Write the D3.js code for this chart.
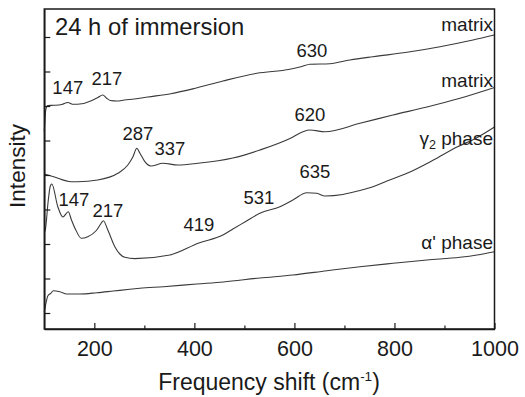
<!DOCTYPE html>
<html><head><meta charset="utf-8">
<script src="https://cdn.jsdelivr.net/npm/d3@7"></script>
<style>
html,body{margin:0;padding:0;background:#fff;}
svg{display:block;font-family:"Liberation Sans",Arial,Helvetica,sans-serif;}
</style></head>
<body>
<svg id="chart" width="525" height="397"></svg>
<script>
// Frequency shift (cm-1) / intensity (arb. units)
const matrixTopX = [100,103,107,120,135,147,158,175,195,207,217,224,232,245,260,280,307,353,400,457,525,591,615,631,671,711,757,825,891,957,1000];
const matrixTopY = [1980,2190,2235,2237,2245,2265,2247,2252,2285,2315,2340,2310,2285,2280,2290,2300,2320,2353,2405,2480,2557,2597,2625,2647,2653,2690,2723,2767,2823,2890,2940];

const matrixMidX = [100,117,154,167,207,247,267,277,285,291,301,313,337,367,407,477,531,591,617,631,661,731,797,865,931,1000];
const matrixMidY = [1550,1525,1473,1473,1490,1557,1640,1720,1807,1760,1673,1630,1657,1640,1657,1710,1790,1905,1973,1990,1973,2057,2140,2220,2307,2415];

const gamma2X = [100,102,108,112,115,127,137,148,154,163,174,187,204,214,218,227,241,251,261,281,351,409,457,477,501,531,571,597,625,645,661,697,731,757,785,825,878,926,958,1000];
const gamma2Y = [970,990,1290,1430,1450,1223,1120,1173,1095,990,907,923,985,1060,1083,990,823,750,717,704,740,860,940,1000,1070,1157,1223,1290,1363,1357,1330,1345,1385,1423,1480,1557,1690,1823,1895,2020];

const alphaX = [100,103,107,113,118,131,145,171,205,238,271,291,338,405,458,531,597,665,731,797,865,931,965,1000];
const alphaY = [170,250,330,357,383,373,350,350,363,380,397,407,423,450,470,510,540,583,623,657,690,717,740,773];

const xTicks = [200,400,600,800,1000];
const xMinorTicks = [300,500,700,900];
const yTicks = [160,505,850,1195,1540,1885,2230,2575,2920];

// peak annotations: [cm-1 position, intensity position, text]
const peakLabels = [
  [147, 2347, "147"], [225, 2440, "217"], [635, 2723, "630"],
  [287, 1890, "287"], [351, 1740, "337"], [631, 2083, "620"],
  [159, 1235, "147"], [227, 1125, "217"], [409, 980, "419"], [529, 1247, "531"], [641, 1507, "635"]
];
const seriesNames = ["matrix", "matrix", "γ2 phase", "α' phase"];
const seriesLabelY = [2980, 2420, 1840, 800];
const panelTitle = "24 h of immersion";

const svg = d3.select("#chart");
const x = d3.scaleLinear().domain([100, 1000]).range([44.3, 494.5]);
const y = d3.scaleLinear().domain([0, 3200]).range([329, 9]);
const ink = "#1a1a1a";

const series = [
  [matrixTopX, matrixTopY],
  [matrixMidX, matrixMidY],
  [gamma2X, gamma2Y],
  [alphaX, alphaY]
];
const line = d3.line().x(d => x(d[0])).y(d => y(d[1])).curve(d3.curveMonotoneX);
series.forEach(([xs, ys]) => {
  svg.append("path")
    .datum(xs.map((v, i) => [v, ys[i]]))
    .attr("d", line)
    .attr("fill", "none")
    .attr("stroke", "#3a3a3a")
    .attr("stroke-width", 1.1);
});

// axes
const xAxis = d3.axisBottom(x).tickValues(xTicks).tickSizeInner(-6).tickSizeOuter(0).tickPadding(12).tickFormat(d3.format("d"));
const gx = svg.append("g").attr("transform", "translate(0,329)").call(xAxis);
const gxm = svg.append("g").attr("transform", "translate(0,329)")
  .call(d3.axisBottom(x).tickValues(xMinorTicks).tickSizeInner(-3.5).tickSizeOuter(0).tickFormat(""));
gxm.select(".domain").remove();
const yAxis = d3.axisLeft(y).tickValues(yTicks).tickSizeInner(-6).tickSizeOuter(0).tickFormat("");
const gy = svg.append("g").attr("transform", "translate(44.3,0)").call(yAxis);
[gx, gxm, gy].forEach(g => {
  g.selectAll("line").attr("stroke", ink).attr("stroke-width", 1.2);
  g.selectAll(".domain").attr("stroke", ink).attr("stroke-width", 1.5);
});
gx.selectAll("text").attr("font-size", 21.5).attr("fill", ink).attr("font-family", "Liberation Sans, Arial, sans-serif");

// frame
svg.append("rect").attr("x", x.range()[0]).attr("y", y.range()[1])
  .attr("width", x.range()[1] - x.range()[0]).attr("height", y.range()[0] - y.range()[1])
  .attr("fill", "none").attr("stroke", ink).attr("stroke-width", 1.5);

// axis titles
const xt = svg.append("text").attr("x", 269).attr("y", 390).attr("text-anchor", "middle")
  .attr("font-size", 23).attr("fill", ink);
xt.append("tspan").text("Frequency shift (cm");
xt.append("tspan").attr("dy", -9).attr("font-size", 13.5).text("-1");
xt.append("tspan").attr("dy", 9).text(")");

svg.append("text").attr("transform", "translate(25,166) rotate(-90)").attr("text-anchor", "middle")
  .attr("font-size", 22.5).attr("fill", ink).text("Intensity");

// panel title
svg.append("text").attr("x", 55).attr("y", 35).attr("font-size", 23.8).attr("fill", ink).text(panelTitle);

// peak labels
peakLabels.forEach(([px, py, t]) => {
  svg.append("text").attr("x", x(px)).attr("y", y(py)).attr("text-anchor", "middle")
    .attr("font-size", 18.5).attr("fill", ink).text(t);
});

// series labels
seriesNames.forEach((name, i) => {
  const t = svg.append("text").attr("x", 493).attr("y", y(seriesLabelY[i])).attr("text-anchor", "end")
    .attr("font-size", 19).attr("fill", ink);
  if (name.startsWith("γ2")) {
    t.append("tspan").text("γ");
    t.append("tspan").attr("dy", 4).attr("font-size", 12.5).text("2");
    t.append("tspan").attr("dy", -4).text(" phase");
  } else {
    t.text(name);
  }
});
</script>
</body></html>
